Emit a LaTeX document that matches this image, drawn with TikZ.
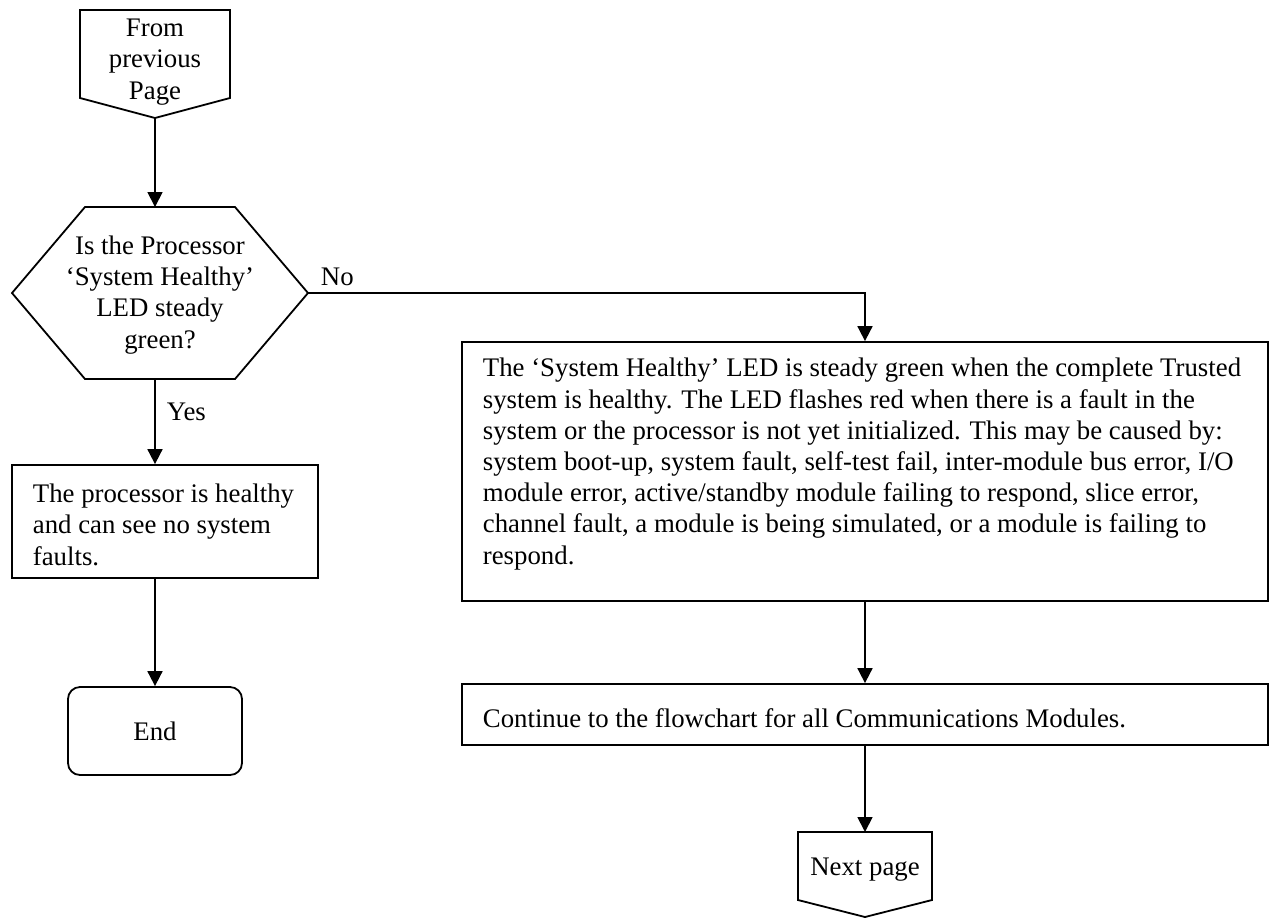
\documentclass[tikz,border=0pt]{standalone}
\usepackage{fontspec}
\setmainfont{Liberation Serif}
\usetikzlibrary{arrows.meta}

\begin{document}
\begin{tikzpicture}[
  x=0.5pt, y=-0.5pt,
  font=\fontsize{13.4}{15.6}\selectfont,
  line width=0.9pt,
  >={Triangle[length=7.5pt,width=7.5pt]},
  frame/.style={draw, rectangle, inner sep=0pt},
  body/.style={anchor=base west, align=left, inner sep=0pt},
  branch/.style={anchor=base west, inner sep=0pt},
  arrow/.style={->}
]
\useasboundingbox (0,0) rectangle (1270,918);

% --- off-page connector in (multi-line nodes sit on their last baseline) ---
\coordinate (prev tip) at (155,118);
\draw (80,10) -- (230,10) -- (230,98) -- (prev tip) -- (80,98) -- cycle;
\node[align=center, inner sep=0pt, anchor=base] (prev) at (155,99)
  {From\\previous\\Page};

% --- decision ---
\coordinate (q top) at (155,207);
\coordinate (q bottom) at (155,379);
\draw (85,207) -- (235,207) -- (308,293) coordinate (q right)
  -- (235,379) -- (85,379) -- (12,293) -- cycle;
\node[align=center, inner sep=0pt, anchor=base] (q) at (160,348)
  {Is the Processor\\`System Healthy'\\LED steady\\green?};
\node[branch] (no) at (320,285) {No};
\node[branch] (yes) at (166,420) {Yes};

% --- yes branch ---
\node[frame, minimum width=153pt, minimum height=56.5pt] (ok) at (165,521.5) {};
\node[body] (ok text) at (32,565)
  {The processor is healthy\\and can see no system\\faults.};
\node[frame, rounded corners=6pt, minimum width=87pt, minimum height=44pt]
  (end) at (155,731) {End};

% --- no branch ---
\node[frame, minimum width=403pt, minimum height=129.5pt] (info) at (865,471.5) {};
\node[body] (info text) at (482,564)
  {The `System Healthy' LED is steady green when the complete Trusted\\
   system is healthy. The LED flashes red when there is a fault in the\\
   system or the processor is not yet initialized. This may be caused by:\\
   system boot-up, system fault, self-test fail, inter-module bus error, I/O\\
   module error, active/standby module failing to respond, slice error,\\
   channel fault, a module is being simulated, or a module is failing to\\
   respond.};
\node[frame, minimum width=403pt, minimum height=30.5pt] (cont) at (865,714.5) {};
\node[body] (cont text) at (482,727)
  {Continue to the flowchart for all Communications Modules.};

% --- off-page connector out ---
\coordinate (next top) at (865,832);
\draw (798,832) -- (932,832) -- (932,900) -- (865,917) -- (798,900) -- cycle;
\node[inner sep=0pt, anchor=base] (next) at (865,875) {Next page};

% --- arrows ---
\draw[arrow] (prev tip) -- (q top);
\draw[arrow] (q bottom) -- (q bottom |- ok.north);
\draw[arrow] (end |- ok.south) -- (end.north);
\draw[arrow] (q right) -| (info.north);
\draw[arrow] (info.south) -- (cont.north);
\draw[arrow] (cont.south) -- (next top);
\end{tikzpicture}
\end{document}
